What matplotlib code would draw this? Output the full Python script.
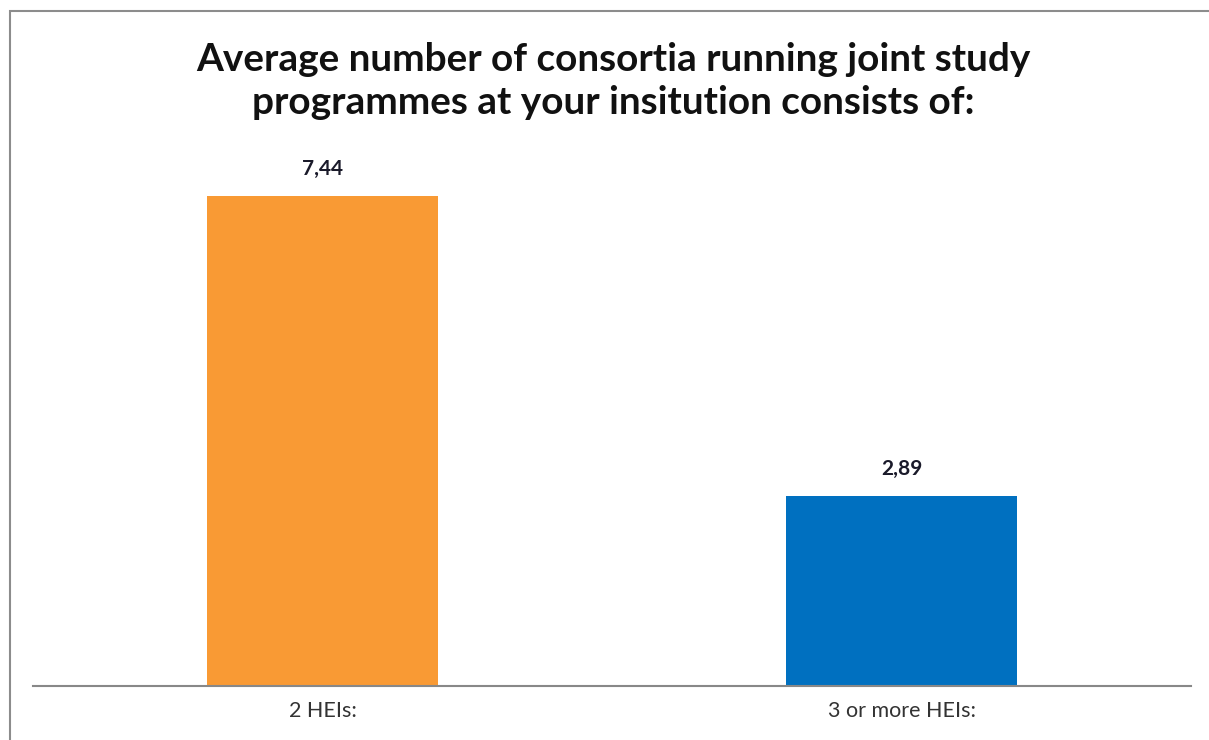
import matplotlib.pyplot as plt
from matplotlib.patches import Rectangle

categories = ['2 HEIs:', '3 or more HEIs:']
values = [7.44, 2.89]
value_labels = ['7,44', '2,89']
colors = ['#F99A34', '#0070C0']
title = 'Average number of consortia running joint study\nprogrammes at your insitution consists of:'

plt.rcParams['font.family'] = ['Lato', 'DejaVu Sans']

fig = plt.figure(figsize=(12.09, 7.40), dpi=100)
W, H = 1209, 740

# outer chart border (only top and left visible in the picture)
fig.patches.append(Rectangle((10 / W, -0.1), 1.2, (740 - 11) / H + 0.1,
                             transform=fig.transFigure, fill=False,
                             edgecolor='#8c8c8c', linewidth=1.5))

ax = fig.add_axes([33 / W, 54 / H, 1158 / W, 527 / H])
x = range(len(categories))
bars = ax.bar(x, values, width=0.4, color=colors)
ax.set_xlim(-0.5, 1.5)
ax.set_ylim(0, 8)

for b, lab in zip(bars, value_labels):
    ax.annotate(lab, (b.get_x() + b.get_width() / 2, b.get_height()),
                xytext=(0, 12), textcoords='offset points',
                ha='center', va='bottom', fontsize=15, fontweight='bold',
                color='#1a1a2a')

ax.set_xticks(list(x))
ax.set_xticklabels(categories, fontsize=15.5, color='#333333')
ax.tick_params(axis='x', length=0, pad=11)
ax.set_yticks([])
for s in ['top', 'right', 'left']:
    ax.spines[s].set_visible(False)
ax.spines['bottom'].set_color('#888888')
ax.spines['bottom'].set_linewidth(1.5)

fig.text(613 / W, 1 - 81 / H, title, ha='center', va='center',
         fontsize=27.9, fontweight='bold', color='#111111', linespacing=1.3)

fig.savefig('out.png', dpi=100)
